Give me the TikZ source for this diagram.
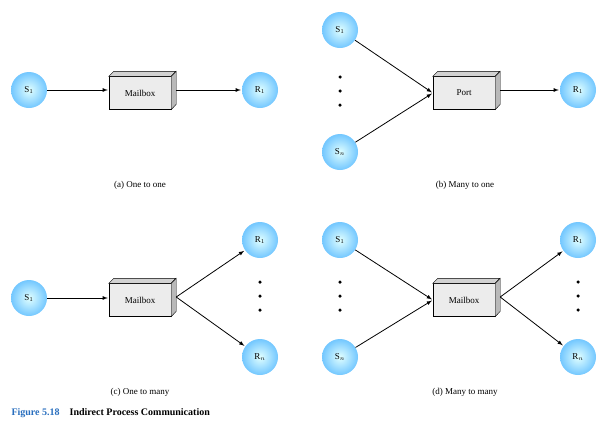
\documentclass[tikz,border=0pt]{standalone}
\usepackage{fontspec}
\setmainfont{Liberation Serif}
\definecolor{fblue}{RGB}{40,110,190}
\begin{document}
\begin{tikzpicture}[x=1pt,y=-1pt,
  proc/.style={circle,minimum size=36pt,inner sep=0pt,shading=radial,inner color=white!60!cyan!30,outer color=cyan!60!blue!55,font=\small},
  arr/.style={-latex,thick,shorten >=1pt},
  dot/.style={circle,fill=black,inner sep=0pt,minimum size=3.5pt},
  captxt/.style={font=\small}]
\useasboundingbox (0,0) rectangle (605,429);
\newcommand{\mybox}[3]{% name, center, text
  \node[draw,fill=gray!15,minimum width=62pt,minimum height=33pt,inner sep=0pt,font=\small] (#1) at #2 {#3};
  \fill[gray!35,draw=black] (#1.north west) -- ++(5,-5) -- ++(62,0) -- (#1.north east) -- cycle;
  \fill[gray!55,draw=black] (#1.north east) -- ++(5,-5) -- ++(0,33) -- (#1.south east) -- cycle;
}
% (a)
\node[proc] (a1) at (29,90) {S$_1$};
\mybox{ma}{(140,93)}{Mailbox}
\node[proc] (a2) at (260,90) {R$_1$};
\draw[arr] (a1) -- (a1-|ma.west);
\draw[arr] (ma.east) ++(5,-3) coordinate (ae) -- (ae-|a2.west);
\node[captxt] (ca) at (140,185) {(a) One to one};
% (b)
\node[proc] (b1) at (340,30) {S$_1$};
\node[proc] (bn) at (340,152) {S$_n$};
\mybox{pb}{(464,93)}{Port}
\node[proc] (b2) at (578,90) {R$_1$};
\foreach \y [count=\i] in {77,91,105} \node[dot] (bd\i) at (340,\y) {};
\draw[arr] (b1) -- (pb.west);
\draw[arr] (bn) -- (pb.west);
\draw[arr] (pb.east) ++(5,-3) coordinate (be) -- (be-|b2.west);
\node[captxt] (cb) at (465,185) {(b) Many to one};
% (c)
\node[proc] (c1) at (29,298) {S$_1$};
\mybox{mc}{(140,300)}{Mailbox}
\node[proc] (c2) at (260,240) {R$_1$};
\node[proc] (cn) at (260,357) {R$_n$};
\foreach \y [count=\i] in {282,296,310} \node[dot] (cd\i) at (260,\y) {};
\draw[arr] (c1) -- (c1-|mc.west);
\draw[arr] (mc.east) ++(5,-3) coordinate (ce) -- (c2);
\draw[arr] (ce) -- (cn);
\node[captxt] (cc) at (140,392) {(c) One to many};
% (d)
\node[proc] (d1) at (340,240) {S$_1$};
\node[proc] (dn) at (340,357) {S$_n$};
\mybox{md}{(464,300)}{Mailbox}
\node[proc] (d2) at (578,240) {R$_1$};
\node[proc] (dm) at (578,357) {R$_n$};
\foreach \y [count=\i] in {282,296,310} {\node[dot] (dd\i) at (340,\y) {}; \node[dot] (de\i) at (578,\y) {};}
\draw[arr] (d1) -- (md.west);
\draw[arr] (dn) -- (md.west);
\draw[arr] (md.east) ++(5,-3) coordinate (dx) -- (d2);
\draw[arr] (dx) -- (dm);
\node[captxt] (cd) at (465,392) {(d) Many to many};
\node[anchor=west,font=\bfseries] (fig) at (8,413) {\textcolor{fblue}{Figure 5.18}\quad Indirect Process Communication};
\end{tikzpicture}
\end{document}
